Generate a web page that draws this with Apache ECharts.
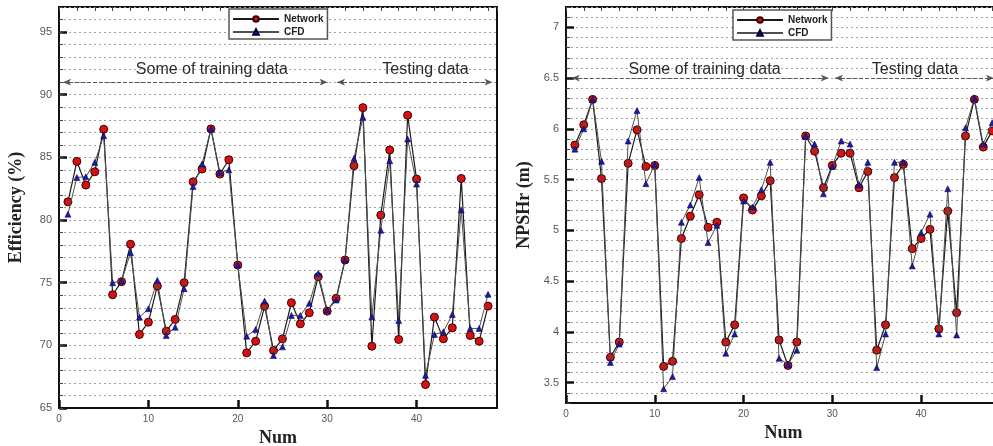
<!DOCTYPE html>
<html>
<head>
<meta charset="utf-8">
<script src="https://cdn.jsdelivr.net/npm/echarts@6/dist/echarts.min.js"></script>
<style>
  * { margin: 0; padding: 0; }
  body { background: #fff; }
  #chart { width: 993px; height: 446px; }
</style>
</head>
<body>
<div id="chart"></div>
<script>
// sample number (x)
var num = [1,2,3,4,5,6,7,8,9,10,11,12,13,14,15,16,17,18,19,20,21,22,23,24,
           25,26,27,28,29,30,31,32,33,34,35,36,37,38,39,40,41,42,43,44,45,46,47,48];

// efficiency (%)
var effNetwork = [81.45,84.68,82.79,83.85,87.24,74.04,75.08,78.07,70.87,71.85,74.73,71.13,
                  72.07,75.0,83.05,84.07,87.27,83.67,84.81,76.41,69.4,70.33,73.13,69.59,
                  70.52,73.4,71.72,72.6,75.48,72.73,73.75,76.81,84.33,88.97,69.93,80.39,
                  85.59,70.47,88.36,83.27,66.87,72.25,70.52,71.4,83.32,70.79,70.33,73.13];
var effCFD = [80.47,83.4,83.45,84.6,86.73,75.0,75.13,77.4,72.25,72.92,75.19,70.79,
              71.45,74.52,82.68,84.47,87.27,83.8,84.01,76.41,70.73,71.27,73.53,69.19,
              69.88,72.39,72.39,73.35,75.75,72.81,73.61,76.81,84.92,88.2,72.28,79.19,
              84.73,71.99,86.47,82.87,67.61,70.87,71.08,72.47,80.81,71.35,71.35,74.07];

// NPSHr (m)
var npNetwork = [5.84,6.04,6.29,5.51,3.75,3.90,5.66,5.99,5.63,5.64,3.66,3.71,
                 4.92,5.14,5.35,5.03,5.08,3.90,4.07,5.32,5.20,5.34,5.49,3.92,
                 3.67,3.90,5.93,5.78,5.42,5.64,5.76,5.76,5.42,5.58,3.82,4.07,
                 5.52,5.65,4.82,4.92,5.01,4.03,5.19,4.19,5.93,6.29,5.82,5.98];
var npCFD = [5.80,6.00,6.29,5.68,3.70,3.88,5.88,6.18,5.46,5.65,3.44,3.56,
             5.08,5.25,5.52,4.88,5.05,3.79,3.98,5.29,5.23,5.40,5.67,3.74,
             3.68,3.82,5.93,5.85,5.36,5.63,5.88,5.85,5.45,5.67,3.65,3.98,
             5.67,5.67,4.65,4.98,5.16,3.98,5.41,3.97,6.01,6.30,5.85,6.06];

// region arrows and labels: [xFrom, xTo] and label x
var effArrows = [[0.45, 30.05], [31.1, 48.5]];
var effArrowY = 91;
var effTexts = [['Some of training data', 17.1], ['Testing data', 41.0]];
var effTextY = 92.0;
var npArrows = [[0.65, 29.6], [30.3, 48.2]];
var npArrowY = 6.5;
var npTexts = [['Some of training data', 15.6], ['Testing data', 39.3]];
var npTextY = 6.58;

function pairs(ys) {
  return ys.map(function (v, i) { return [num[i], v]; });
}

var chart = echarts.init(document.getElementById('chart'));

var labelStyle = { color: '#555', fontSize: 11, fontFamily: 'Liberation Sans' };
var titleStyle = { color: '#222', fontSize: 18, fontWeight: 'bold', fontFamily: 'Liberation Serif' };
var majorTick = { show: true, inside: true, length: 8, lineStyle: { color: '#111', width: 2.5 } };
var minorTick = { show: true, inside: true, length: 4, lineStyle: { color: '#444', width: 1 } };
var dotted = { show: true, lineStyle: { color: '#a0a0a0', type: [2, 3], width: 1 } };

function xMain(grid, name) {
  return {
    type: 'value', gridIndex: grid, min: 0, max: 49, interval: 10,
    name: name, nameLocation: 'middle', nameGap: 21, nameTextStyle: titleStyle,
    axisLine: { show: true, lineStyle: { color: '#111', width: 2 } },
    axisTick: majorTick,
    axisLabel: Object.assign({ margin: 6, showMaxLabel: false }, labelStyle, { fontSize: 10 }),
    splitLine: { show: false }
  };
}
function xMinor(grid) {
  return {
    type: 'value', gridIndex: grid, min: 0, max: 49, interval: 2,
    axisLine: { show: false }, axisTick: minorTick,
    axisLabel: { show: false }, splitLine: { show: false }
  };
}

function arrowLine(spans, y) {
  return {
    silent: true,
    symbol: ['arrow', 'arrow'],
    symbolSize: [5, 8],
    label: { show: false },
    lineStyle: { color: '#555', type: [4, 2], width: 1.2 },
    data: spans.map(function (s) { return [{ coord: [s[0], y] }, { coord: [s[1], y] }]; })
  };
}
function textPoints(texts, y) {
  return {
    silent: true,
    symbol: 'circle',
    symbolSize: 0,
    itemStyle: { color: 'rgba(0,0,0,0)' },
    label: { show: true, position: 'inside', formatter: '{b}', fontSize: 16, color: '#2a2a2a', fontFamily: 'Liberation Sans' },
    data: texts.map(function (t) { return { name: t[0], coord: [t[1], y] }; })
  };
}

var netStyle = {
  type: 'line', name: 'Network', symbol: 'circle', symbolSize: 8, z: 2,
  itemStyle: { color: '#d81010', borderColor: '#3a0000', borderWidth: 1 },
  lineStyle: { color: '#1a1a1a', width: 1.2 }
};
var cfdStyle = {
  type: 'line', name: 'CFD', symbol: 'triangle', symbolSize: 6, z: 3,
  itemStyle: { color: '#1a1ab0', borderColor: '#000033', borderWidth: 0.5 },
  lineStyle: { color: '#505050', width: 1 }
};

var legendBase = {
  orient: 'vertical',
  itemWidth: 46, itemHeight: 7, itemGap: 3,
  padding: [5, 4, 2, 3],
  borderColor: '#555', borderWidth: 1.5,
  backgroundColor: '#fff',
  textStyle: { fontSize: 10, fontWeight: 'bold', color: '#222', fontFamily: 'Liberation Sans' },
  data: ['Network', 'CFD']
};

// right panel: y from 3.3 to 7.2 across grid height; labels grid ends at 3.5
var rTop = 7, rH = 396, rMin = 3.3, rMax = 7.2;
var rLabH = rH * (rMax - 3.5) / (rMax - rMin);

chart.setOption({
  animation: false,
  backgroundColor: '#fff',
  legend: [
    Object.assign({ left: 229, top: 9 }, legendBase),
    Object.assign({ left: 733, top: 10 }, legendBase)
  ],
  grid: [
    { left: 59, top: 7, width: 438, height: 401, show: true, borderColor: '#111', borderWidth: 2, outerBoundsMode: 'none' },
    { left: 566, top: rTop, width: 435, height: rH, show: true, borderColor: '#111', borderWidth: 2, outerBoundsMode: 'none' },
    { left: 566, top: rTop, width: 435, height: rLabH, show: false, outerBoundsMode: 'none' }
  ],
  xAxis: [
    xMain(0, 'Num'), xMinor(0),
    xMain(1, 'Num'), xMinor(1),
    { type: 'value', gridIndex: 2, min: 0, max: 49, show: false }
  ],
  yAxis: [
    {
      type: 'value', gridIndex: 0, position: 'left', min: 65, max: 97, interval: 5,
      name: 'Efficiency (%)', nameLocation: 'middle', nameGap: 34, nameTextStyle: titleStyle,
      axisLine: { show: true, lineStyle: { color: '#111', width: 2 } },
      axisTick: majorTick,
      axisLabel: Object.assign({ margin: 7, showMaxLabel: false }, labelStyle),
      splitLine: { show: false }
    },
    {
      type: 'value', gridIndex: 0, position: 'left', min: 65, max: 97, interval: 1,
      axisLine: { show: false }, axisTick: minorTick,
      axisLabel: { show: false }, splitLine: dotted
    },
    {
      type: 'value', gridIndex: 1, position: 'left', min: rMin, max: rMax, interval: 0.1,
      name: 'NPSHr (m)', nameLocation: 'middle', nameGap: 33, nameTextStyle: titleStyle,
      axisLine: { show: true, lineStyle: { color: '#111', width: 2 } },
      axisTick: minorTick,
      axisLabel: { show: false }, splitLine: dotted
    },
    {
      type: 'value', gridIndex: 2, position: 'left', min: 3.5, max: rMax, interval: 0.5,
      axisLine: { show: false }, axisTick: majorTick,
      axisLabel: Object.assign({ margin: 7, showMaxLabel: false }, labelStyle),
      splitLine: { show: false }
    }
  ],
  series: [
    Object.assign({}, netStyle, {
      xAxisIndex: 0, yAxisIndex: 0, data: pairs(effNetwork),
      markLine: arrowLine(effArrows, effArrowY),
      markPoint: textPoints(effTexts, effTextY)
    }),
    Object.assign({}, cfdStyle, { xAxisIndex: 0, yAxisIndex: 0, data: pairs(effCFD) }),
    Object.assign({}, netStyle, {
      xAxisIndex: 2, yAxisIndex: 2, data: pairs(npNetwork),
      markLine: arrowLine(npArrows, npArrowY),
      markPoint: textPoints(npTexts, npTextY)
    }),
    Object.assign({}, cfdStyle, { xAxisIndex: 2, yAxisIndex: 2, data: pairs(npCFD) })
  ]
});
</script>
</body>
</html>
